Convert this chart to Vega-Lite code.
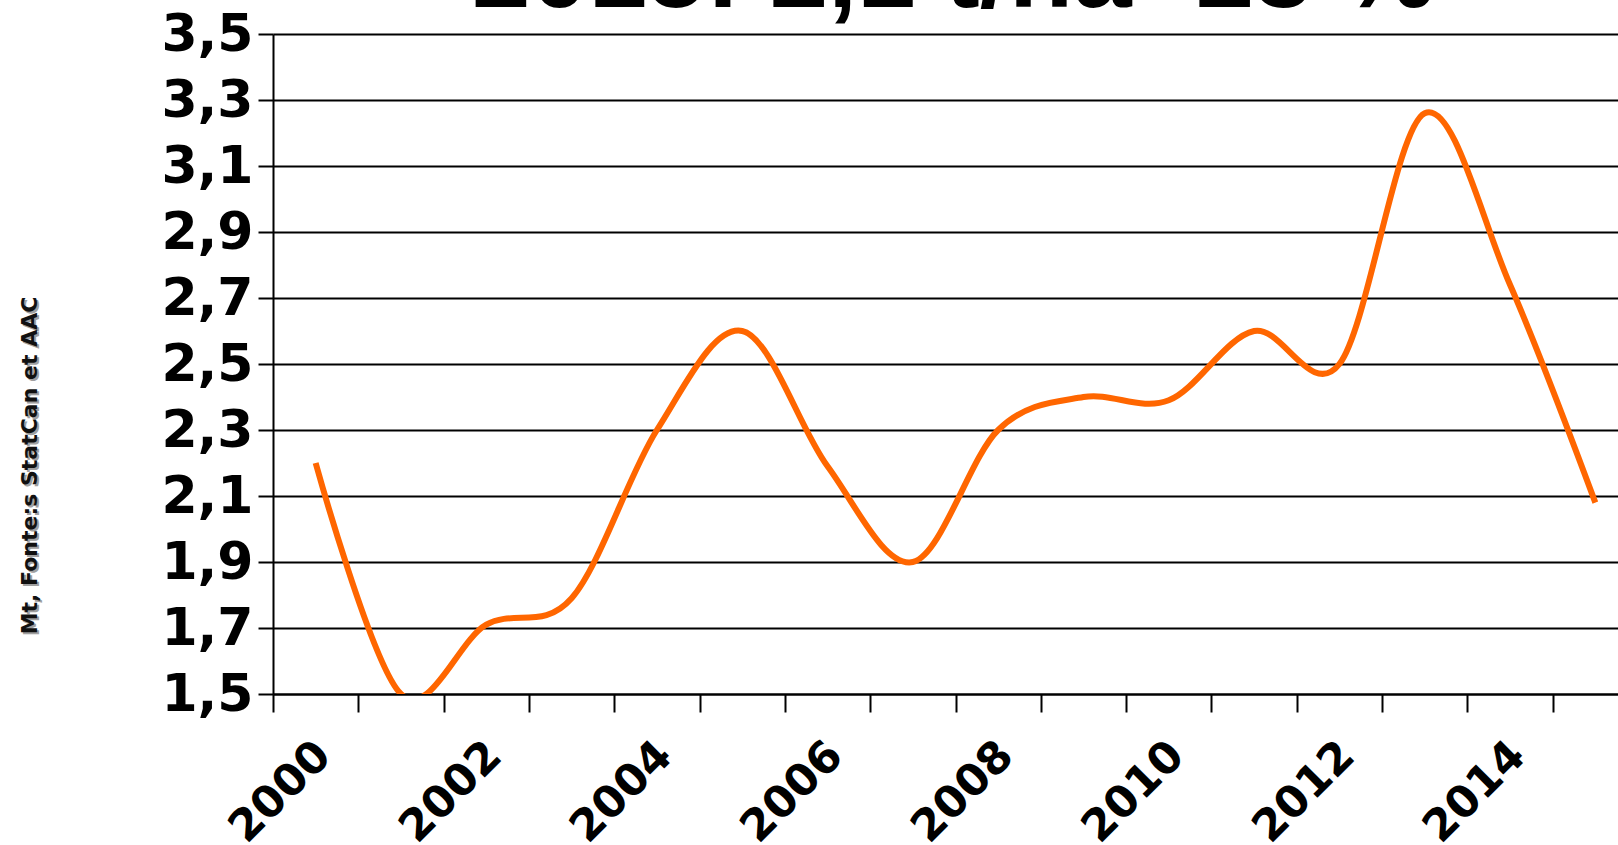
{
  "$schema": "https://vega.github.io/schema/vega-lite/v6.json",
  "width": 1345,
  "height": 660,
  "autosize": {"type": "none"},
  "padding": {"left": 273, "top": 34, "right": 0, "bottom": 151},
  "background": "white",
  "title": {
    "text": "2015: 2,1 t/ha -23 %",
    "font": "Liberation Sans",
    "fontSize": 105,
    "fontWeight": "bold",
    "color": "black",
    "anchor": "middle",
    "frame": "group",
    "offset": -21,
    "dx": 8
  },
  "data": {
    "values": [
      {"year": 2000, "value": 2.2},
      {"year": 2001, "value": 1.5},
      {"year": 2002, "value": 1.71},
      {"year": 2003, "value": 1.79},
      {"year": 2004, "value": 2.3},
      {"year": 2005, "value": 2.6},
      {"year": 2006, "value": 2.19},
      {"year": 2007, "value": 1.9},
      {"year": 2008, "value": 2.3},
      {"year": 2009, "value": 2.4},
      {"year": 2010, "value": 2.39},
      {"year": 2011, "value": 2.6},
      {"year": 2012, "value": 2.5},
      {"year": 2013, "value": 3.26},
      {"year": 2014, "value": 2.74},
      {"year": 2015, "value": 2.08}
    ]
  },
  "layer": [
    {
      "mark": {"type": "line", "interpolate": "cardinal", "strokeOpacity": 0, "strokeWidth": 1, "clip": true},
      "encoding": {
        "x": {"field": "year", "type": "quantitative"},
        "y": {
          "field": "value",
          "type": "quantitative",
          "axis": {
            "orient": "left",
            "labels": false,
            "ticks": false,
            "domain": false,
            "grid": false,
            "title": "Mt, Fonte:s StatCan et AAC",
            "titleFont": "DejaVu Sans",
            "titleFontSize": 22,
            "titleFontWeight": "bold",
            "titleColor": "#a0a0a0",
            "titleX": -242,
            "titleY": 433,
            "titleAngle": -90,
            "titleAlign": "center",
            "titleBaseline": "middle"
          }
        }
      }
    },
    {
      "mark": {"type": "line", "interpolate": "cardinal", "color": "#FF6600", "strokeWidth": 6, "clip": true},
      "encoding": {
        "x": {
          "field": "year",
          "type": "quantitative",
          "scale": {"domain": [1999.5, 2015.5], "range": [0, 1365], "nice": false, "zero": false},
          "axis": {
            "values": [1999.5, 2000.5, 2001.5, 2002.5, 2003.5, 2004.5, 2005.5, 2006.5, 2007.5, 2008.5, 2009.5, 2010.5, 2011.5, 2012.5, 2013.5, 2014.5],
            "labelExpr": "(datum.value + 0.5) % 2 == 0 ? format(datum.value + 0.5, 'd') : ''",
            "labelAngle": -45,
            "labelAlign": "right",
            "labelBaseline": "top",
            "labelOffset": 35,
            "labelPadding": 21,
            "labelFont": "DejaVu Sans",
            "labelFontSize": 44,
            "labelFontWeight": "bold",
            "labelColor": "black",
            "labelOverlap": false,
            "labelBound": false,
            "labelFlush": false,
            "tickSize": 18,
            "tickWidth": 2,
            "tickColor": "black",
            "domainColor": "black",
            "domainWidth": 2,
            "grid": false,
            "title": null
          }
        },
        "y": {
          "field": "value",
          "type": "quantitative",
          "scale": {"domain": [1.5, 3.5], "nice": false, "zero": false},
          "axis": {
            "orient": "left",
            "values": [1.5, 1.7, 1.9, 2.1, 2.3, 2.5, 2.7, 2.9, 3.1, 3.3, 3.5],
            "labelExpr": "replace(format(datum.value, '.1f'), '.', ',')",
            "labelFont": "DejaVu Sans",
            "labelFontSize": 52,
            "labelFontWeight": "bold",
            "labelColor": "black",
            "labelPadding": 5,
            "labelOverlap": false,
            "labelBound": false,
            "labelFlush": false,
            "tickSize": 15,
            "tickWidth": 2,
            "tickColor": "black",
            "domainColor": "black",
            "domainWidth": 2,
            "grid": true,
            "gridColor": "black",
            "gridWidth": 2,
            "gridOpacity": 1,
            "title": "Mt, Fonte:s StatCan et AAC",
            "titleFont": "DejaVu Sans",
            "titleFontSize": 22,
            "titleFontWeight": "bold",
            "titleColor": "#111111",
            "titleX": -244,
            "titleY": 431,
            "titleAngle": -90,
            "titleAlign": "center",
            "titleBaseline": "middle"
          }
        }
      }
    }
  ],
  "resolve": {"axis": {"y": "independent"}},
  "config": {"view": {"stroke": null}}
}
